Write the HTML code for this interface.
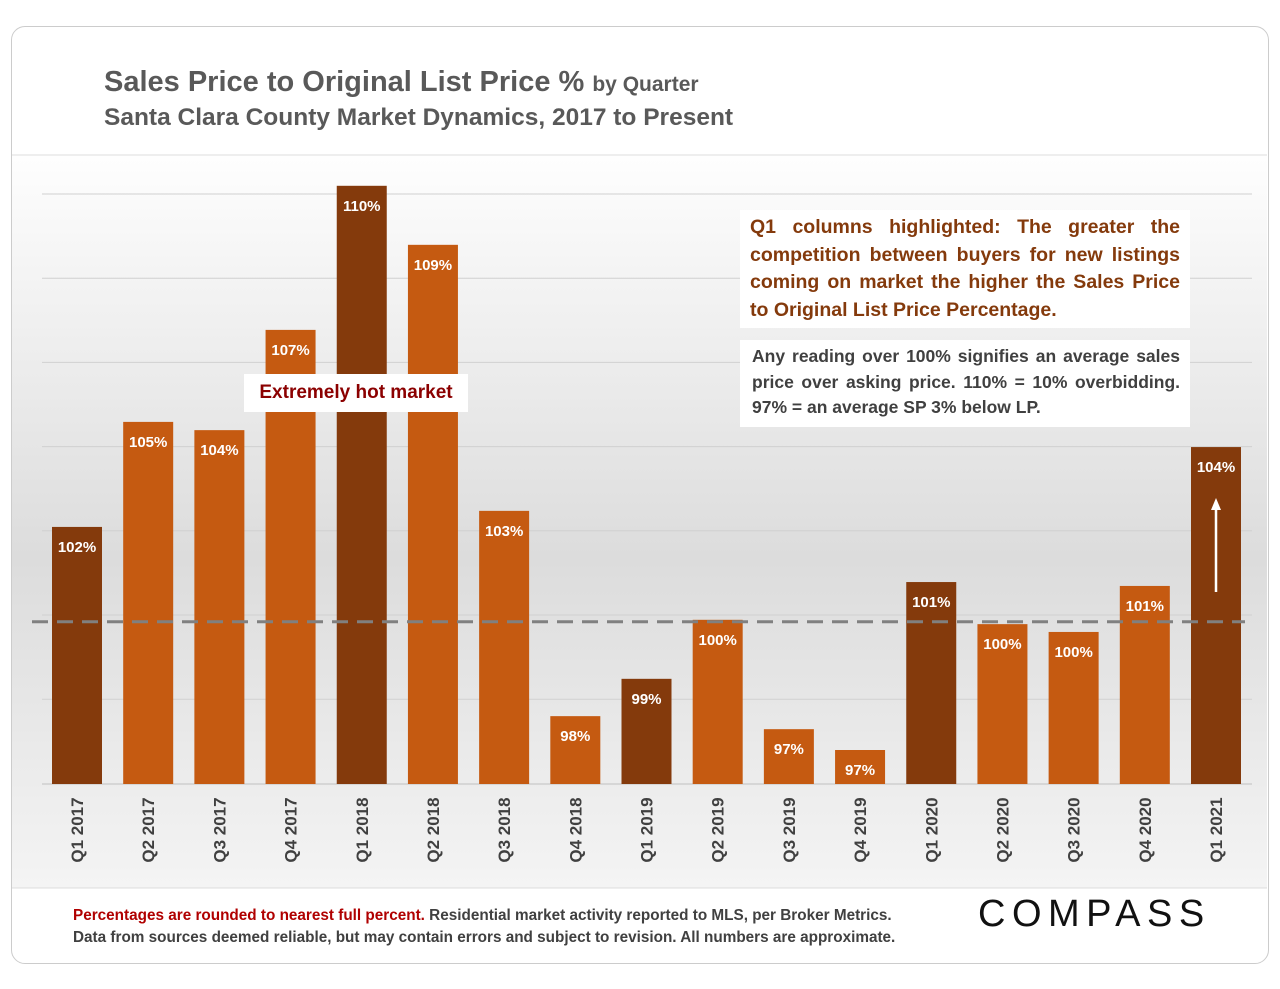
<!DOCTYPE html>
<html><head><meta charset="utf-8"><style>
body{margin:0;width:1280px;height:989px;background:#fff;font-family:"Liberation Sans",sans-serif;overflow:hidden;position:relative}
.card{position:absolute;left:11px;top:26px;width:1256px;height:936px;border:1px solid #ccc;border-radius:14px;overflow:hidden;background:#fff}
.t1{position:absolute;left:104px;top:66px;font-size:29px;font-weight:bold;color:#595959}
.t1 span{font-size:21px}
.t2{position:absolute;left:104px;top:104px;font-size:24.5px;font-weight:bold;color:#595959}
.box{position:absolute;background:#fff;text-align:justify;font-weight:bold}
.foot{position:absolute;left:73px;top:905px;font-size:15.3px;color:#404040;font-weight:bold;line-height:22px;white-space:nowrap}
.logo{position:absolute;left:978px;top:893px;font-size:38px;letter-spacing:6.5px;color:#111}
</style></head><body>
<div class="card"></div>
<div class="t1">Sales Price to Original List Price % <span>by Quarter</span></div>
<div class="t2">Santa Clara County Market Dynamics, 2017 to Present</div>
<svg id="chart" width="1280" height="989" style="position:absolute;left:0;top:0">
<defs><linearGradient id="bg" x1="0" y1="0" x2="0" y2="1"><stop offset="0" stop-color="#fefefe"/><stop offset="0.55" stop-color="#dcdcdc"/><stop offset="1" stop-color="#f4f4f4"/></linearGradient></defs>
<rect x="12" y="155" width="1255" height="733" fill="url(#bg)"/>
<line x1="12" y1="155" x2="1267" y2="155" stroke="#ddd"/>
<line x1="12" y1="888" x2="1267" y2="888" stroke="#ddd"/>
<g id="grid"></g><g id="bars"></g>
</svg>
<div class="box" style="left:740px;top:210px;width:430px;padding:4px 10px;font-size:19.5px;line-height:27.5px;color:#843a0c">Q1 columns highlighted: The greater the competition between buyers for new listings coming on market the higher the Sales Price to Original List Price Percentage.</div>
<div class="box" style="left:740px;top:340px;width:428px;padding:4px 10px 6px 12px;font-size:17.5px;line-height:25.5px;color:#404040;font-weight:bold">Any reading over 100% signifies an average sales price over asking price. 110% = 10% overbidding. 97% = an average SP 3% below LP.</div>
<div class="box" style="left:244px;top:374px;width:212px;padding:0 6px;height:38px;line-height:38px;font-size:19px;color:#8b0000;text-align:center">Extremely hot market</div>
<div class="foot"><span style="color:#b00000">Percentages are rounded to nearest full percent.</span> Residential market activity reported to MLS, per Broker Metrics.<br>Data from sources deemed reliable, but may contain errors and subject to revision. All numbers are approximate.</div>
<div class="logo">COMPASS</div>
<script>
const categories=["Q1 2017","Q2 2017","Q3 2017","Q4 2017","Q1 2018","Q2 2018","Q3 2018","Q4 2018","Q1 2019","Q2 2019","Q3 2019","Q4 2019","Q1 2020","Q2 2020","Q3 2020","Q4 2020","Q1 2021"];
const values=[102.14,104.56,104.37,106.68,110.0,108.64,102.51,97.78,98.64,100.0,97.48,97.0,100.87,99.9,99.72,100.78,103.98];
const labels=["102%","105%","104%","107%","110%","109%","103%","98%","99%","100%","97%","97%","101%","100%","100%","101%","104%"];
const refValue=100;
const NS="http://www.w3.org/2000/svg";
const y=v=>750-(v-97)*43.4;
const x=i=>52+i*71.1875;
const bw=50, base=784;
function mk(t,a,p){const e=document.createElementNS(NS,t);for(const k in a)e.setAttribute(k,a[k]);p.appendChild(e);return e;}
const g=document.getElementById('grid'),b=document.getElementById('bars');
for(let k=0;k<7;k++){const gl=mk('line',{x1:42,x2:1252,y1:194+k*84.2,y2:194+k*84.2,stroke:'#d0d0d0'},g);

}
mk('line',{x1:42,x2:1252,y1:base,y2:base,stroke:'#bfbfbf'},g);
categories.forEach((c,i)=>{
 const q1=c.startsWith('Q1');
 const r=mk('rect',{x:x(i),y:y(values[i]),width:bw,height:base-y(values[i]),fill:q1?'#843a0c':'#c55a11'},b);
 
 
 const t=mk('text',{x:x(i)+bw/2,y:y(values[i])+25,'text-anchor':'middle',fill:'#fff','font-size':15,'font-weight':'bold','font-family':'Liberation Sans'},b);
 t.textContent=labels[i];
 
 
 const cx=x(i)+bw/2+6;
 const tl=mk('text',{x:cx,y:830,transform:`rotate(-90 ${cx} 830)`,'text-anchor':'middle',fill:'#404040','font-size':17,'font-weight':'bold','font-family':'Liberation Sans'},b);
 tl.textContent=c;
 
 
});
const dl=mk('line',{x1:32,x2:1245,y1:y(refValue)+2,y2:y(refValue)+2,stroke:'#808080','stroke-width':3,'stroke-dasharray':'16 9'},b);


const ax=x(16)+bw/2;
const ar=mk('line',{x1:ax,x2:ax,y1:592,y2:508,stroke:'#fff','stroke-width':2.5},b);


mk('polygon',{points:`${ax-5},${510} ${ax+5},${510} ${ax},${498}`,fill:'#fff'},b);
</script>
</body></html>
